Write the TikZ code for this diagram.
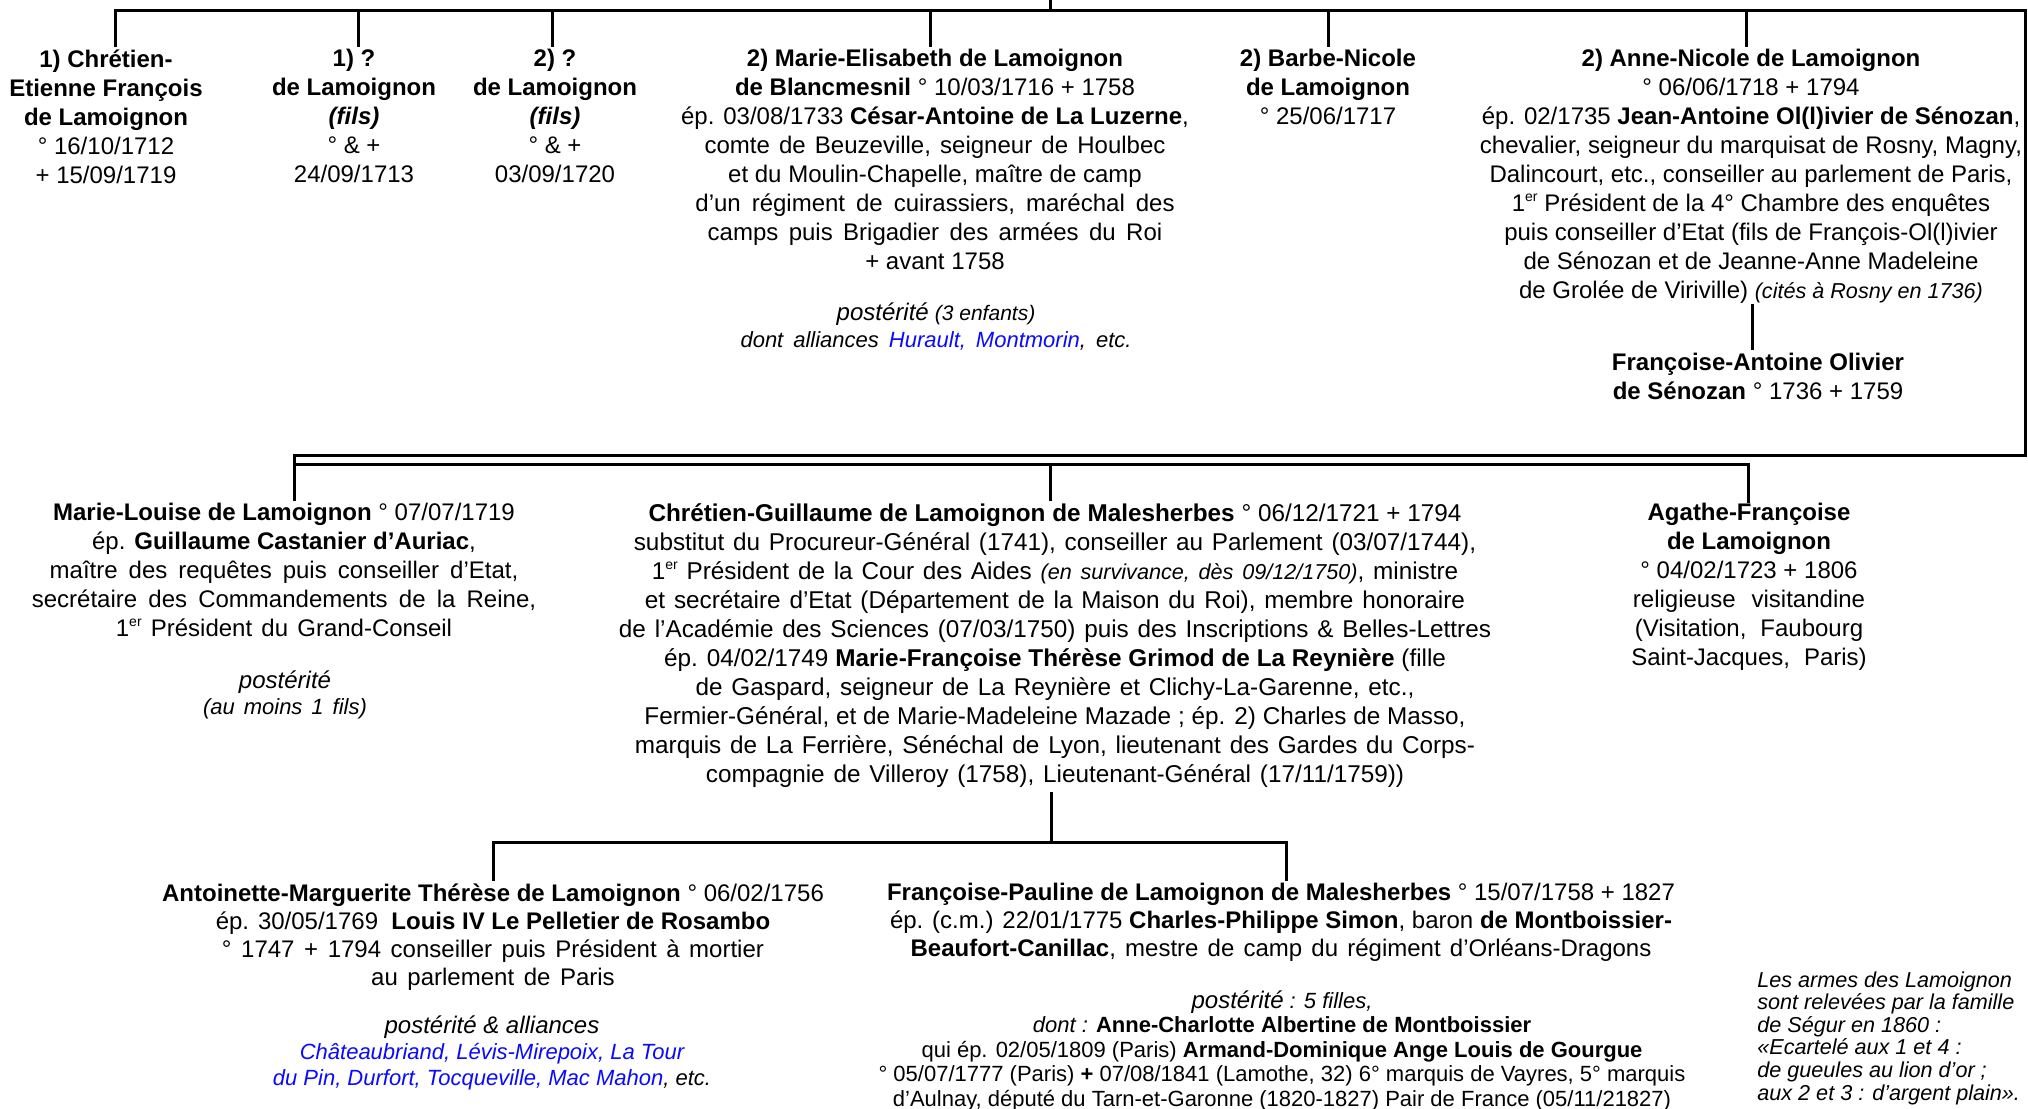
\documentclass[tikz,border=0pt]{standalone}
\usepackage{fontspec}
\setmainfont{Liberation Sans}

% small italic inserts, ordinal suffix, wider word spacing, blue family names
\newcommand\sitl[1]{{\fontsize{10.8}{12}\selectfont\itshape #1}}
\newcommand\ord{\raisebox{0.42em}{\fontsize{7}{7}\selectfont er}}
\newcommand\wsp[2]{{\spaceskip=#1\relax #2}}
\newcommand\widespaces{\spaceskip=4.4pt\relax}
\newcommand\lnk[1]{\textcolor{linkblue}{#1}}
\definecolor{linkblue}{RGB}{10,10,255}

\tikzset{
  person/.style={anchor=north, inner sep=0pt, align=center,
                 font=\fontsize{12}{14.5}\selectfont},
  person3/.style={person, font=\fontsize{12}{14}\selectfont},
  descent/.style={anchor=north, inner sep=0pt, align=center},
  link/.style={line width=1.5pt, line join=miter, draw=black}
}

\begin{document}
\begin{tikzpicture}[x=0.5pt,y=-0.5pt]
\useasboundingbox[fill=white] (0,0) rectangle (2028,1108);

% ---------- first generation (children of both marriages)
\node[person] (n1) at (106,49) {\textbf{1) Chrétien-}\\ \textbf{Etienne François}\\ \textbf{de Lamoignon}\\ ° 16/10/1712\\ + 15/09/1719};
\node[person] (n2) at (354,49) {\textbf{1) ?}\\ \textbf{de Lamoignon}\\ \textbf{\itshape (fils)}\\ ° \& +\\ 24/09/1713};
\node[person] (n3) at (555,49) {\textbf{2) ?}\\ \textbf{de Lamoignon}\\ \textbf{\itshape (fils)}\\ ° \& +\\ 03/09/1720};
\node[person] (n4) at (935,49) {\textbf{2) Marie-Elisabeth de Lamoignon}\\
  \textbf{de Blancmesnil} ° 10/03/1716 + 1758\\
  ép. 03/08/1733 \textbf{César-Antoine de La Luzerne},\\
  \wsp{4.6pt}{comte de Beuzeville, seigneur de Houlbec}\\
  et du Moulin-Chapelle, maître de camp\\
  \wsp{5.5pt}{d’un régiment de cuirassiers, maréchal des}\\
  \wsp{5.2pt}{camps puis Brigadier des armées du Roi}\\
  + avant 1758};
\node[descent, font=\fontsize{11}{13.5}\selectfont\itshape] (n4p) at (936,302)
  {{\fontsize{12}{14}\selectfont postérité} {\fontsize{10.5}{12}\selectfont(3 enfants)}\\
   \wsp{5pt}{dont alliances \lnk{Hurault, Montmorin}, etc.}};
\node[person] (n5) at (1328,49) {\textbf{2) Barbe-Nicole}\\ \textbf{de Lamoignon}\\ ° 25/06/1717};
\node[person] (n6) at (1751,49) {\textbf{2) Anne-Nicole de Lamoignon}\\
  ° 06/06/1718 + 1794\\
  ép. 02/1735 \textbf{Jean-Antoine Ol(l)ivier de Sénozan},\\
  chevalier, seigneur du marquisat de Rosny, Magny,\\
  Dalincourt, etc., conseiller au parlement de Paris,\\
  1\ord\ Président de la 4° Chambre des enquêtes\\
  puis conseiller d’Etat (fils de François-Ol(l)ivier\\
  de Sénozan et de Jeanne-Anne Madeleine\\
  de Grolée de Viriville) \sitl{(cités à Rosny en 1736)}};
\node[person] (n7) at (1758,353) {\textbf{Françoise-Antoine Olivier}\\ \textbf{de Sénozan} ° 1736 + 1759};

% ---------- second marriage, later children
\node[person] (n8) at (284,503) {\textbf{Marie-Louise de Lamoignon} ° 07/07/1719\\
  ép. \textbf{Guillaume Castanier d’Auriac},\\
  \wsp{5.5pt}{maître des requêtes puis conseiller d’Etat,}\\
  \wsp{5.6pt}{secrétaire des Commandements de la Reine,}\\
  \wsp{4.6pt}{1\ord\ Président du Grand-Conseil}};
\node[descent, font=\fontsize{11}{13}\selectfont\itshape] (n8p) at (285,670)
  {{\fontsize{12}{13}\selectfont postérité}\\ \wsp{4.5pt}{(au moins 1 fils)}};
\node[person, font={\fontsize{12.15}{14.5}\selectfont\widespaces}] (n9) at (1055,503) {\wsp{3.4pt}{\textbf{Chrétien-Guillaume de Lamoignon de Malesherbes} ° 06/12/1721 + 1794}\\
  substitut du Procureur-Général (1741), conseiller au Parlement (03/07/1744),\\
  1\ord\ Président de la Cour des Aides \sitl{(en survivance, dès 09/12/1750)}, ministre\\
  et secrétaire d’Etat (Département de la Maison du Roi), membre honoraire\\
  de l’Académie des Sciences (07/03/1750) puis des Inscriptions \& Belles-Lettres\\
  \wsp{3.4pt}{ép. 04/02/1749 \textbf{Marie-Françoise Thérèse Grimod de La Reynière} (fille}\\
  de Gaspard, seigneur de La Reynière et Clichy-La-Garenne, etc.,\\
  \wsp{3.4pt}{Fermier-Général, et de Marie-Madeleine Mazade ; ép. 2) Charles de Masso,}\\
  marquis de La Ferrière, Sénéchal de Lyon, lieutenant des Gardes du Corps-\\
  compagnie de Villeroy (1758), Lieutenant-Général (17/11/1759))};
\node[person] (n10) at (1749,503) {\textbf{Agathe-Françoise}\\ \textbf{de Lamoignon}\\ ° 04/02/1723 + 1806\\
  \wsp{8pt}{religieuse visitandine}\\ \wsp{7pt}{(Visitation, Faubourg}\\ \wsp{7pt}{Saint-Jacques, Paris)}};

% ---------- children of Malesherbes
\node[person3] (n11) at (493,883) {\textbf{Antoinette-Marguerite Thérèse de Lamoignon} ° 06/02/1756\\
  ép. 30/05/1769 \ \textbf{Louis IV Le Pelletier de Rosambo}\\
  \wsp{4.8pt}{° 1747 + 1794 conseiller puis Président à mortier}\\
  \wsp{4.8pt}{au parlement de Paris}};
\node[descent, font=\fontsize{11}{13}\selectfont\itshape] (n11p) at (492,1015)
  {{\fontsize{12}{13}\selectfont postérité \& alliances}\\
   \lnk{Châteaubriand, Lévis-Mirepoix, La Tour}\\
   \lnk{du Pin, Durfort, Tocqueville, Mac Mahon}, etc.};
\node[person3] (n12) at (1281,883) {\textbf{Françoise-Pauline de Lamoignon de Malesherbes} ° 15/07/1758 + 1827\\
  ép. (c.m.) 22/01/1775 \textbf{Charles-Philippe Simon}, baron \textbf{de Montboissier-}\\
  \wsp{4.6pt}{\textbf{Beaufort-Canillac}, mestre de camp du régiment d’Orléans-Dragons}};
\node[descent, font=\fontsize{11}{12.3}\selectfont] (n12p) at (1282,990)
  {{\itshape{\fontsize{12}{12.3}\selectfont postérité} : 5 filles,}\\
   {\itshape dont :} \textbf{Anne-Charlotte Albertine de Montboissier}\\
   qui ép. 02/05/1809 (Paris) \textbf{Armand-Dominique Ange Louis de Gourgue}\\
   ° 05/07/1777 (Paris) \textbf{+} 07/08/1841 (Lamothe, 32) 6° marquis de Vayres, 5° marquis\\
   d’Aulnay, député du Tarn-et-Garonne (1820-1827) Pair de France (05/11/21827)};

% ---------- heraldic note
\node[anchor=north west, inner sep=0pt, align=left, font=\fontsize{10.8}{11.3}\selectfont\itshape] (n13) at (1757,971)
  {Les armes des Lamoignon\\ sont relevées par la famille\\ de Ségur en 1860 :\\
   «Ecartelé aux 1 et 4 :\\ de gueules au lion d’or ;\\ aux 2 et 3 : d’argent plain».};

% ---------- connectors
\coordinate (t0) at (1050,0);
\coordinate (t1) at (1050,10);
\coordinate (d1) at (115,10);
\coordinate (d2) at (358,10);
\coordinate (d3) at (552,10);
\coordinate (d4) at (930,10);
\coordinate (d5) at (1328,10);
\coordinate (d6) at (1746,10);
\coordinate (tR) at (2025,10);
\coordinate (mR) at (2025,455);
\coordinate (mL) at (294,455);
\coordinate (lL) at (294,464);
\coordinate (lC) at (1050,464);
\coordinate (lR) at (1748,464);
\coordinate (s6) at (1752,0);
\coordinate (c0) at (1051,0);
\coordinate (c1) at (1051,842);
\coordinate (cL) at (493,842);
\coordinate (cR) at (1286,842);

\draw[link] (t0) -- (t1);
\draw[link] ([yshift=1pt]d1 |- n1.north) -- (d1) -- (tR) -- (mR) -- (mL) -- ([yshift=1pt]mL |- n8.north);
\foreach \d/\n in {d2/n2, d3/n3, d4/n4, d5/n5, d6/n6}
  \draw[link] (\d) -- ([yshift=1pt]\d |- \n.north);
\draw[link] (lL) -- (lR) -- ([yshift=0pt]lR |- n10.north);
\draw[link] (lC) -- ([yshift=1pt]lC |- n9.north);
\draw[link] ([yshift=0pt]s6 |- n6.south) -- ([yshift=1.5pt]s6 |- n7.north);
\draw[link] ([yshift=-2pt]c0 |- n9.south) -- (c1);
\draw[link] ([yshift=1pt]cL |- n11.north) -- (cL) -- (cR) -- ([yshift=1pt]cR |- n12.north);
\end{tikzpicture}
\end{document}
